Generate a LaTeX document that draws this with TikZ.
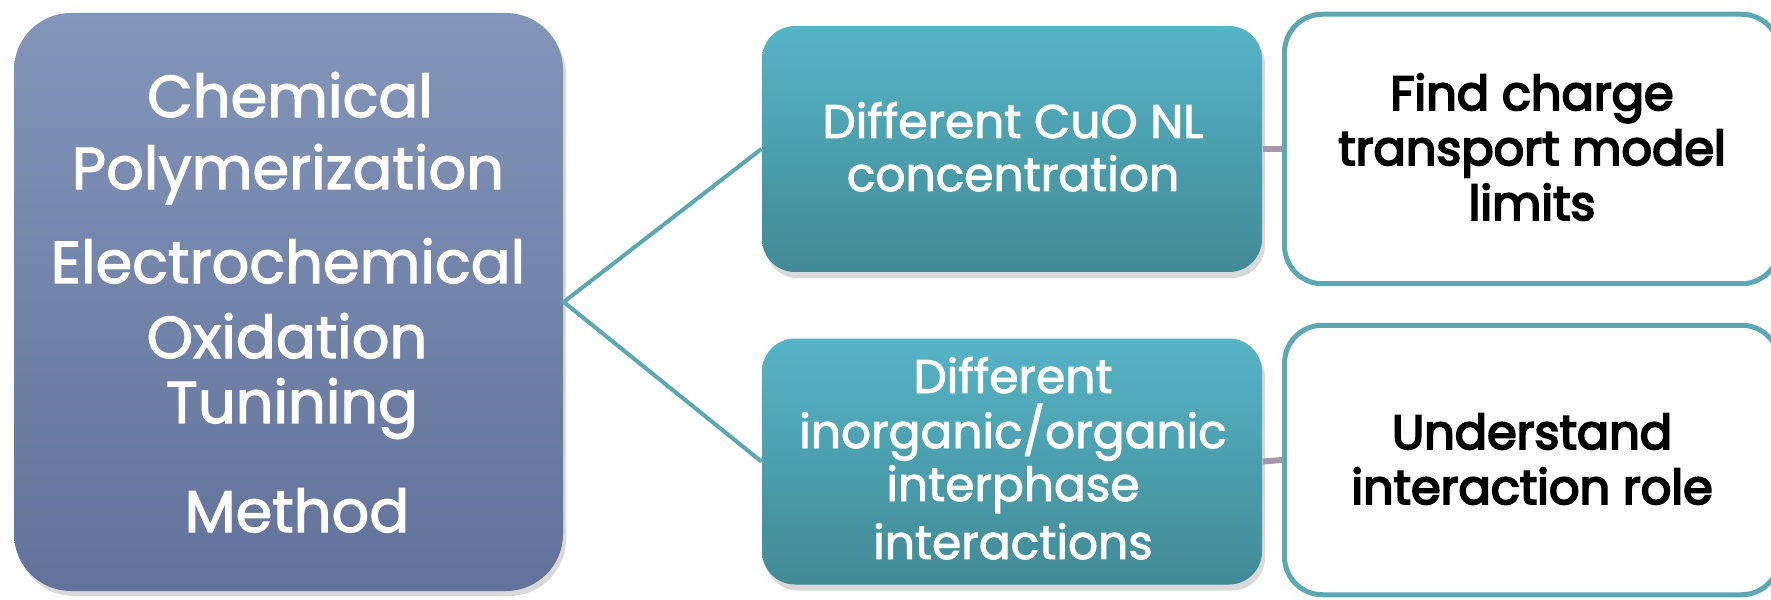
\documentclass[tikz,border=0pt]{standalone}
\usepackage{fontspec}
\setmainfont{Poppins}
\newfontfamily\whitefont[FakeBold=2]{Poppins}
\newfontfamily\blackfont[FakeBold=4]{Poppins}
\usetikzlibrary{shadows}
\definecolor{lefttop}{HTML}{8395B9}
\definecolor{leftbot}{HTML}{62729A}
\definecolor{midtop}{HTML}{56B4C6}
\definecolor{midbot}{HTML}{418A95}
\definecolor{tealline}{HTML}{5BA8B3}
\definecolor{mauve}{HTML}{A797AC}
\begin{document}
\begin{tikzpicture}[x=0.1mm,y=-0.1mm,
  leftbox/.style={rounded corners=5.7mm, top color=lefttop, bottom color=leftbot,
    minimum width=54.9mm, minimum height=57.8mm, inner sep=0pt,
    drop shadow={opacity=0.3, shadow xshift=0.3mm, shadow yshift=-0.5mm}},
  midbox/.style={rounded corners=3.3mm, top color=midtop, bottom color=midbot,
    minimum width=50mm, minimum height=24.6mm, inner sep=0pt,
    drop shadow={opacity=0.3, shadow xshift=0.3mm, shadow yshift=-0.6mm}},
  rightbox/.style={rounded corners=3.8mm, draw=tealline, line width=0.5mm, fill=white,
    minimum width=49.5mm, minimum height=26.95mm, inner sep=0pt},
  lefttext/.style={anchor=base, inner sep=0pt, text=white, font=\whitefont\fontsize{16.8}{19}\selectfont},
  midtext/.style={anchor=base, inner sep=0pt, text=white, font=\whitefont\fontsize{13.4}{17}\selectfont},
  righttext/.style={anchor=base, inner sep=0pt, text=black, font=\blackfont\fontsize{13.6}{18}\selectfont},
  tealconn/.style={draw=tealline, line width=0.4mm},
  mauveconn/.style={draw=mauve, line width=0.6mm}
]
\useasboundingbox (0,0) rectangle (1771,600);
\clip (0,0) rectangle (1771,600);
% boxes
\node[leftbox] (left) at (288.5,302) {};
\node[midbox] (m1) at (1012,149) {};
\node[midbox] (m2) at (1012,461.5) {};
\node[rightbox] (r1) at (1532,149) {};
\node[rightbox] (r2) at (1532,460) {};
% connectors
\draw[tealconn] (m1.west) -- (left.east) -- (m2.west);
\draw[mauveconn] (m1.east) -- (r1.west);
\draw[mauveconn] (m2.east) -- (r2.west);
% left text
\node[lefttext] (l1) at (290,117) {Chemical};
\node[lefttext] (l2) at (288,189) {Polymerization};
\node[lefttext] (l3) at (288,283) {Electrochemical};
\node[lefttext] (l4) at (287,358) {Oxidation};
\node[lefttext] (l5) at (292,423) {Tunining};
\node[lefttext] (l6) at (297,532) {Method};
% middle text
\node[midtext] (a1) at (1013,138) {Different CuO NL};
\node[midtext] (a2) at (1013,191) {concentration};
\node[midtext] (b1) at (1013,393) {Different};
\node[midtext] (b2) at (1013,448) {inorganic/organic};
\node[midtext] (b3) at (1013,501) {interphase};
\node[midtext] (b4) at (1013,559) {interactions};
% right text
\node[righttext] (c1) at (1532,110) {Find charge};
\node[righttext] (c2) at (1532,165) {transport model};
\node[righttext] (c3) at (1532,220) {limits};
\node[righttext] (d1) at (1532,449) {Understand};
\node[righttext] (d2) at (1532,504) {interaction role};
\end{tikzpicture}
\end{document}
